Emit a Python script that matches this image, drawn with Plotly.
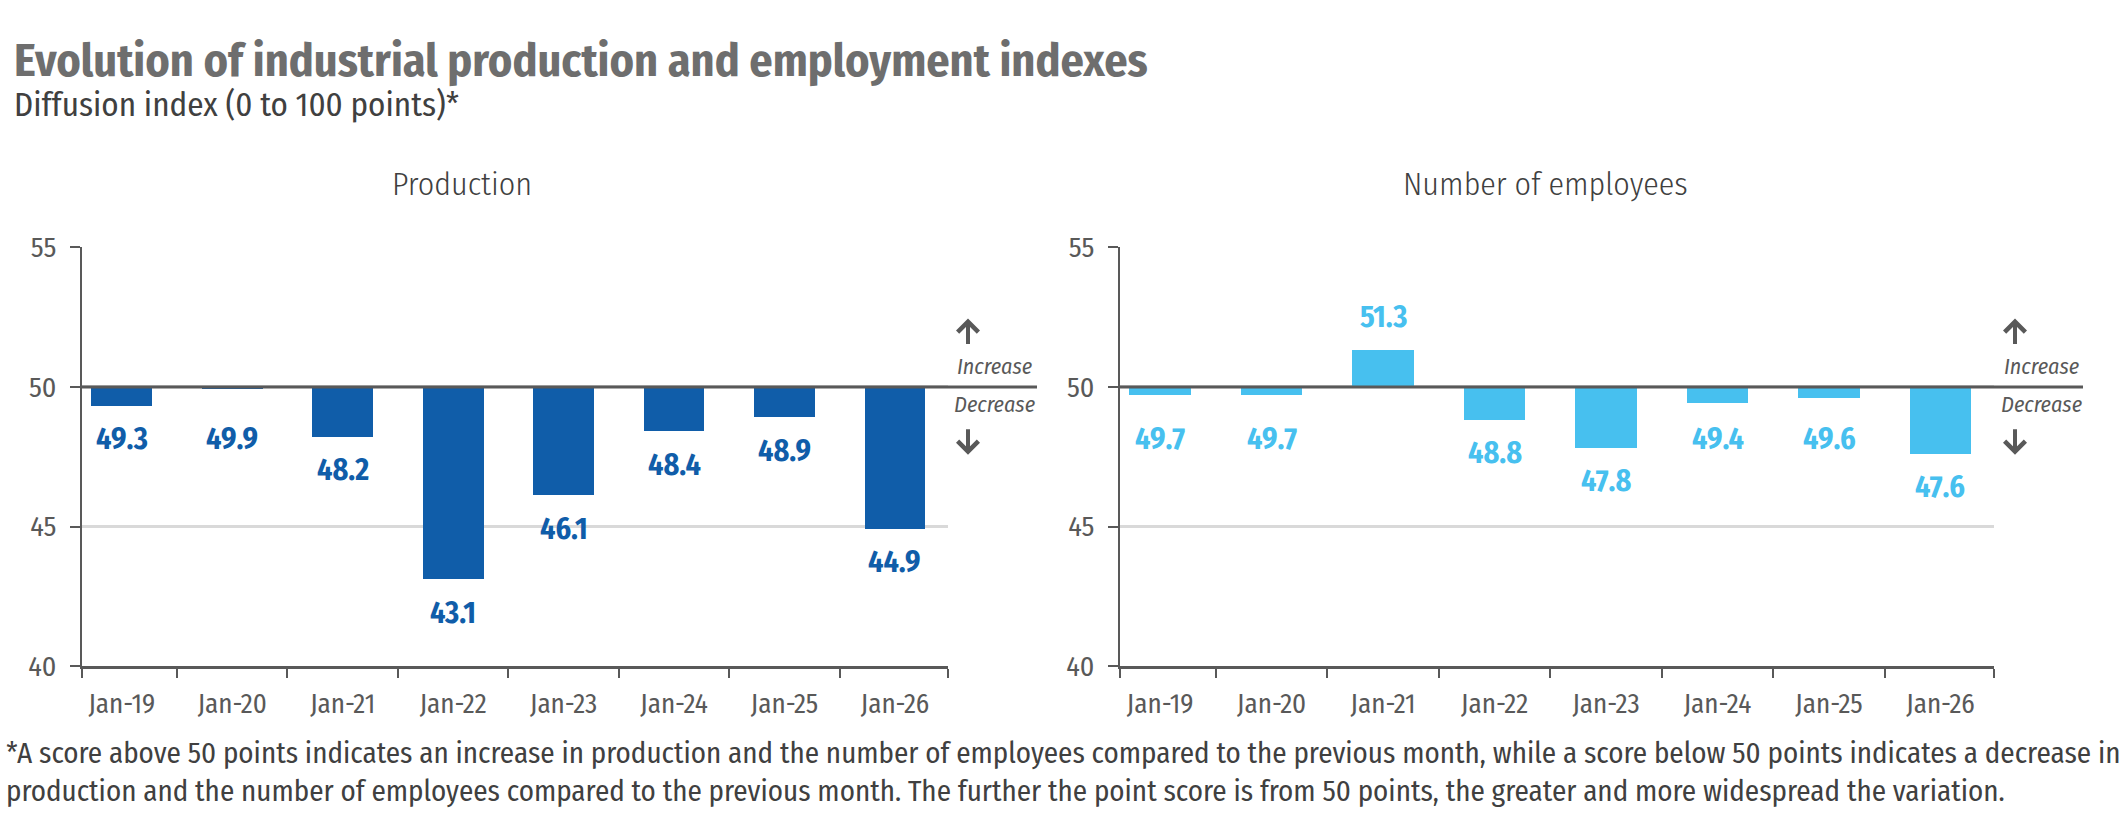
import plotly.graph_objects as go

# ---------------- data ----------------
categories = ["Jan-19", "Jan-20", "Jan-21", "Jan-22", "Jan-23", "Jan-24", "Jan-25", "Jan-26"]
production = [49.3, 49.9, 48.2, 43.1, 46.1, 48.4, 48.9, 44.9]
employees = [49.7, 49.7, 51.3, 48.8, 47.8, 49.4, 49.6, 47.6]
baseline = 50
y_ticks = [40, 45, 50, 55]
panel_titles = ["Production", "Number of employees"]
title = "Evolution of industrial production and employment indexes"
subtitle = "Diffusion index (0 to 100 points)*"
footnote = ("*A score above 50 points indicates an increase in production and the number of employees compared to the previous month, "
            "while a score below 50 points indicates a decrease in<br>production and the number of employees compared to the previous month. "
            "The further the point score is from 50 points, the greater and more widespread the variation.")

# ---------------- style ----------------
W, H = 2126, 829
FONT = "Fira Sans Condensed, Liberation Sans Narrow, DejaVu Sans Condensed, Roboto, sans-serif"
DARK = "#595959"
TXT = "#404040"
GRID = "#D9D9D9"
COL_PROD = "#105DA9"
COL_EMP = "#47C0EF"
LABEL_GAP_PX = 33          # distance from bar end to label centre
LABEL_MIN_DEPTH = 0.7      # labels never sit closer to the 50 line than this (in index points)

def px_x(p):
    return p / W

def px_y(p):
    return 1 - p / H

x_idx = list(range(len(categories)))
x_range = [-0.36, 7.48]
boundaries = [x_range[0]] + [i + 0.5 for i in range(len(categories) - 1)] + [x_range[1]]

fig = go.Figure()

panels = [
    dict(vals=production, color=COL_PROD, xa="x", ya="y", dom=[px_x(82), px_x(948)],
         line_end=1037, title_x=462, inc_x=994, arrow_x=968),
    dict(vals=employees, color=COL_EMP, xa="x2", ya="y2", dom=[px_x(1120), px_x(1994)],
         line_end=2083, title_x=1545, inc_x=2041, arrow_x=2015),
]

annotations = []
shapes = []
for k, p in enumerate(panels):
    fig.add_trace(go.Bar(
        x=x_idx, y=[v - baseline for v in p["vals"]], base=baseline,
        width=0.55, marker=dict(color=p["color"], line=dict(width=0)),
        xaxis=p["xa"], yaxis=p["ya"], hoverinfo="skip", showlegend=False,
    ))
    sfx = "" if k == 0 else "2"
    fig.update_layout(**{
        "xaxis" + sfx: dict(
            domain=p["dom"], range=x_range, anchor="y" + sfx,
            tickmode="array", tickvals=x_idx, ticktext=categories, ticks="",
            showline=True, linecolor=DARK, linewidth=3, showgrid=False, zeroline=False,
            tickfont=dict(family=FONT, size=27, color=DARK), ticklabelstandoff=12,
            minor=dict(tickmode="array", tickvals=boundaries, ticks="outside",
                       ticklen=9, tickwidth=2, tickcolor=DARK, showgrid=False),
            fixedrange=True,
        ),
        "yaxis" + sfx: dict(
            domain=[px_y(677), px_y(241)], range=[40, 55], anchor="x" + sfx,
            tickmode="array", tickvals=y_ticks, ticks="outside", ticklen=10,
            tickwidth=2, tickcolor=DARK, showline=True, linecolor=DARK, linewidth=2,
            showgrid=True, gridcolor=GRID, gridwidth=3, zeroline=False,
            tickfont=dict(family=FONT, size=28, color=DARK), ticklabelstandoff=8,
            fixedrange=True,
        ),
    })
    # baseline 50 line extending past plot
    shapes.append(dict(type="line", xref="paper", yref="y" + sfx,
                       x0=p["dom"][0], x1=px_x(p["line_end"]), y0=baseline, y1=baseline,
                       line=dict(color=DARK, width=3), layer="above"))
    # panel title
    annotations.append(dict(text=panel_titles[k], xref="paper", yref="paper",
                            x=px_x(p["title_x"]), y=px_y(175), xanchor="center", yanchor="middle",
                            showarrow=False, font=dict(family=FONT, size=32, color=TXT, weight=300)))
    # increase / decrease
    annotations.append(dict(text="<i>Increase</i>", xref="paper", yref="paper",
                            x=px_x(p["inc_x"]), y=px_y(365), xanchor="center", yanchor="middle",
                            showarrow=False, font=dict(family=FONT, size=22, color=DARK)))
    annotations.append(dict(text="<i>Decrease</i>", xref="paper", yref="paper",
                            x=px_x(p["inc_x"]), y=px_y(405), xanchor="center", yanchor="middle",
                            showarrow=False, font=dict(family=FONT, size=22, color=DARK)))
    annotations.append(dict(text="", xref="paper", yref="paper", x=px_x(p["arrow_x"]), y=px_y(315),
                            ax=0, ay=27, showarrow=True, arrowhead=4, arrowsize=1, arrowwidth=4,
                            arrowcolor=DARK))
    annotations.append(dict(text="", xref="paper", yref="paper", x=px_x(p["arrow_x"]), y=px_y(457),
                            ax=0, ay=-27, showarrow=True, arrowhead=4, arrowsize=1, arrowwidth=4,
                            arrowcolor=DARK))
    # data labels
    for i, v in zip(x_idx, p["vals"]):
        if v > baseline:
            ly, ys = v, LABEL_GAP_PX + 1
        else:
            ly, ys = min(v, baseline - LABEL_MIN_DEPTH), -LABEL_GAP_PX
        annotations.append(dict(text=f"{v:.1f}", xref=p["xa"], yref=p["ya"], x=i, y=ly,
                                yshift=ys, showarrow=False,
                                xanchor="center", yanchor="middle",
                                font=dict(family=FONT, size=30, color=p["color"], weight="bold")))

annotations.append(dict(text=title, xref="paper", yref="paper", x=px_x(12), y=px_y(46),
                        xanchor="left", yanchor="middle", showarrow=False,
                        font=dict(family=FONT, size=46, color="#6E6E6E", weight="bold")))
annotations.append(dict(text=subtitle, xref="paper", yref="paper", x=px_x(12), y=px_y(93),
                        xanchor="left", yanchor="middle", showarrow=False,
                        font=dict(family=FONT, size=33, color=TXT)))
annotations.append(dict(text=footnote, xref="paper", yref="paper", x=px_x(4), y=px_y(788),
                        xanchor="left", yanchor="middle", align="left", showarrow=False,
                        font=dict(family=FONT, size=29, color=TXT)))

fig.update_layout(
    width=W, height=H, margin=dict(l=0, r=0, t=0, b=0),
    paper_bgcolor="white", plot_bgcolor="white",
    bargap=0, annotations=annotations, shapes=shapes,
    font=dict(family=FONT),
)

fig.write_html("out.html", config={"displayModeBar": False},
               post_script="document.body.style.margin='0';")
